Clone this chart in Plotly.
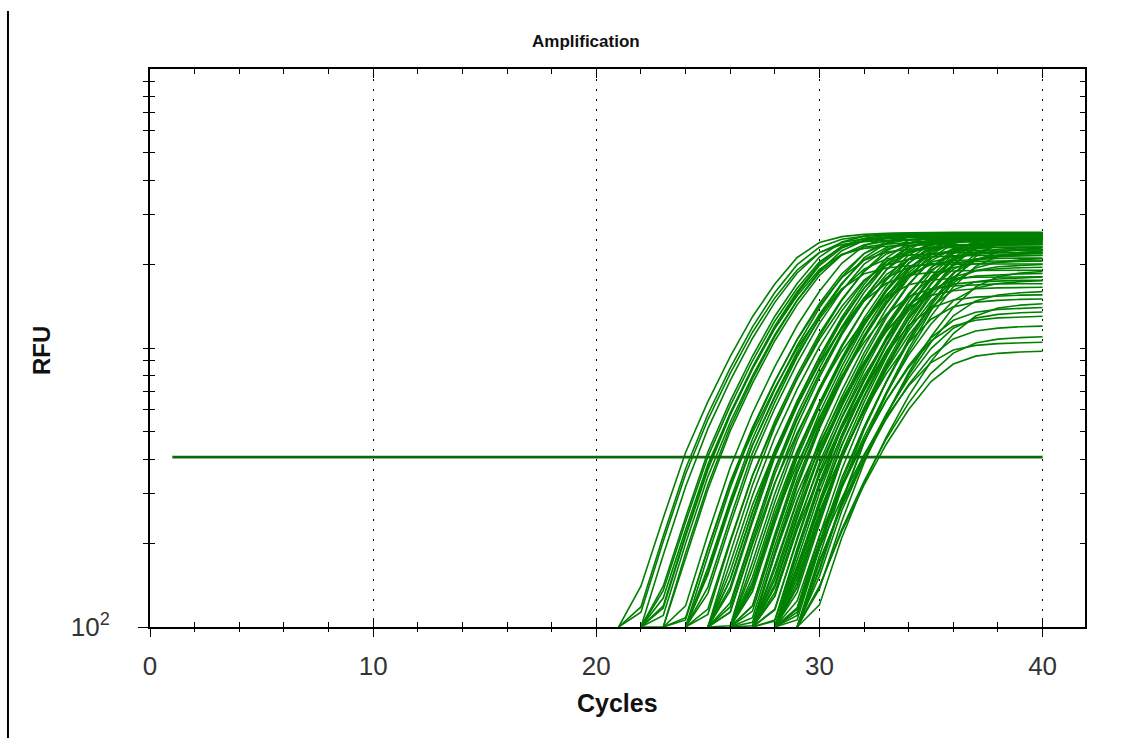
import plotly.graph_objects as go

# ---------------------------------------------------------------------------
# Run data: cycle numbers, threshold and baseline-subtracted RFU per well.
# Each well list holds the readings that end at cycle 40; the first entry is
# the last reading that still sits below the axis floor.
# ---------------------------------------------------------------------------
CYCLES = list(range(1, 41))
THRESHOLD = 406
Y_FLOOR = 100

A01 = [73, 140, 246, 422, 642, 932, 1295, 1696, 2111, 2388, 2507, 2554, 2577, 2587, 2590, 2590, 2590, 2590, 2590, 2590]
A02 = [61, 118, 212, 369, 579, 847, 1190, 1580, 1989, 2299, 2455, 2514, 2542, 2555, 2560, 2560, 2560, 2560, 2560, 2560]
A03 = [59, 113, 203, 353, 554, 811, 1139, 1512, 1904, 2200, 2350, 2406, 2433, 2445, 2450, 2450, 2450, 2450, 2450, 2450]
A04 = [98, 181, 318, 514, 764, 1084, 1457, 1857, 2197, 2389, 2465, 2495, 2512, 2520, 2520, 2520, 2520, 2520, 2520]
A05 = [73, 140, 247, 424, 645, 936, 1300, 1703, 2119, 2397, 2517, 2564, 2587, 2597, 2600, 2600, 2600, 2600, 2600]
A06 = [70, 135, 238, 408, 620, 900, 1250, 1638, 2038, 2305, 2420, 2465, 2488, 2498, 2500, 2500, 2500, 2500, 2500]
A07 = [62, 119, 214, 372, 583, 854, 1200, 1592, 2005, 2317, 2474, 2534, 2562, 2575, 2580, 2580, 2580, 2580, 2580]
A08 = [58, 110, 199, 346, 542, 794, 1116, 1481, 1865, 2155, 2302, 2357, 2383, 2395, 2400, 2400, 2400, 2400, 2400]
A09 = [61, 117, 211, 366, 574, 841, 1181, 1567, 1974, 2281, 2436, 2494, 2522, 2535, 2540, 2540, 2540, 2540, 2540]
A10 = [96, 178, 311, 504, 748, 1062, 1428, 1820, 2154, 2342, 2416, 2445, 2463, 2470, 2470, 2470, 2470, 2470]
A11 = [51, 99, 184, 323, 522, 776, 1101, 1480, 1887, 2232, 2427, 2504, 2534, 2552, 2560, 2560, 2560, 2560, 2560]
A12 = [66, 127, 223, 383, 583, 846, 1175, 1539, 1915, 2167, 2275, 2317, 2338, 2348, 2350, 2350, 2350, 2350, 2350]

B01 = [62, 119, 215, 373, 585, 857, 1204, 1598, 2012, 2326, 2484, 2543, 2572, 2585, 2590, 2590, 2590, 2590]
B02 = [55, 106, 191, 331, 520, 761, 1070, 1419, 1787, 2065, 2206, 2259, 2284, 2295, 2300, 2300, 2300, 2300]
B03 = [98, 180, 315, 510, 758, 1075, 1445, 1843, 2180, 2370, 2445, 2475, 2493, 2500, 2500, 2500, 2500]
B04 = [86, 158, 277, 449, 667, 946, 1272, 1621, 1918, 2086, 2152, 2178, 2193, 2200, 2200, 2200, 2200]
B05 = [81, 154, 270, 448, 674, 968, 1323, 1708, 2070, 2293, 2384, 2421, 2440, 2448, 2450, 2450, 2450]
B06 = [56, 108, 190, 326, 496, 720, 1000, 1310, 1630, 1844, 1936, 1972, 1990, 1998, 2000, 2000, 2000, 2000]
B07 = [72, 139, 245, 421, 640, 929, 1290, 1690, 2103, 2379, 2497, 2544, 2567, 2577, 2580, 2580, 2580]
B08 = [60, 116, 204, 350, 533, 774, 1075, 1408, 1752, 1982, 2081, 2120, 2139, 2148, 2150, 2150, 2150]
B09 = [58, 111, 201, 348, 547, 801, 1125, 1493, 1880, 2173, 2321, 2376, 2403, 2415, 2420, 2420, 2420]
B10 = [87, 158, 274, 429, 629, 884, 1172, 1476, 1706, 1822, 1866, 1887, 1896, 1900, 1900, 1900]
B11 = [99, 184, 323, 522, 776, 1101, 1480, 1887, 2232, 2427, 2504, 2534, 2552, 2560, 2560, 2560]
B12 = [80, 148, 258, 418, 621, 882, 1185, 1511, 1788, 1943, 2005, 2030, 2044, 2050, 2050, 2050]

C01 = [78, 148, 259, 430, 646, 928, 1269, 1638, 1986, 2200, 2287, 2322, 2341, 2348, 2350, 2350]
C02 = [59, 113, 198, 329, 495, 711, 972, 1255, 1521, 1685, 1751, 1778, 1793, 1798, 1800, 1800]
C03 = [70, 135, 238, 408, 620, 900, 1250, 1638, 2038, 2305, 2420, 2465, 2488, 2498, 2500, 2500]
C04 = [63, 122, 214, 367, 558, 810, 1125, 1474, 1834, 2075, 2178, 2219, 2239, 2248, 2250, 2250]
C05 = [59, 113, 203, 353, 554, 811, 1139, 1512, 1904, 2200, 2350, 2406, 2433, 2445, 2450, 2450]
C06 = [78, 141, 245, 384, 563, 791, 1049, 1321, 1527, 1630, 1669, 1688, 1697, 1700, 1700]
C07 = [52, 101, 186, 326, 528, 785, 1114, 1497, 1909, 2258, 2455, 2533, 2564, 2582, 2590, 2590]
C08 = [82, 151, 265, 428, 636, 903, 1214, 1548, 1831, 1991, 2054, 2079, 2094, 2100, 2100]
C09 = [84, 161, 281, 467, 701, 1007, 1377, 1777, 2155, 2387, 2481, 2519, 2540, 2547, 2550]
C10 = [54, 104, 182, 302, 454, 652, 891, 1150, 1394, 1544, 1605, 1630, 1643, 1648, 1650]
C11 = [69, 134, 236, 404, 615, 893, 1240, 1624, 2021, 2287, 2401, 2445, 2468, 2478, 2480]
C12 = [62, 119, 209, 359, 546, 792, 1100, 1441, 1793, 2028, 2130, 2169, 2189, 2198, 2200]

D01 = [95, 166, 285, 434, 630, 875, 1146, 1426, 1614, 1694, 1726, 1741, 1748, 1750]
D02 = [62, 119, 215, 373, 585, 857, 1204, 1598, 2012, 2326, 2484, 2543, 2572, 2585, 2590]
D03 = [56, 108, 195, 338, 531, 778, 1093, 1450, 1826, 2110, 2254, 2308, 2334, 2345, 2350]
D04 = [71, 129, 223, 350, 513, 721, 956, 1204, 1392, 1486, 1522, 1539, 1547, 1550]
D05 = [98, 181, 318, 514, 764, 1084, 1457, 1857, 2197, 2389, 2465, 2495, 2512, 2520]
D06 = [80, 148, 258, 418, 621, 882, 1185, 1511, 1788, 1943, 2005, 2030, 2044, 2050]
D07 = [72, 133, 233, 377, 561, 796, 1069, 1363, 1613, 1754, 1809, 1832, 1844, 1850]
D08 = [80, 153, 267, 445, 668, 960, 1312, 1694, 2053, 2274, 2364, 2401, 2420, 2428]
D09 = [74, 142, 248, 412, 619, 889, 1215, 1568, 1901, 2106, 2189, 2223, 2241, 2248]
D10 = [95, 165, 275, 413, 593, 810, 1046, 1268, 1404, 1460, 1482, 1494, 1499]
D11 = [72, 139, 244, 419, 637, 925, 1285, 1683, 2095, 2370, 2488, 2534, 2557, 2567]
D12 = [60, 116, 204, 350, 533, 774, 1075, 1408, 1752, 1982, 2081, 2120, 2139, 2148]

E01 = [55, 105, 185, 318, 484, 702, 975, 1277, 1589, 1798, 1888, 1923, 1940, 1948]
E02 = [60, 115, 208, 360, 565, 828, 1163, 1543, 1943, 2245, 2398, 2455, 2483, 2495]
E03 = [55, 106, 191, 331, 520, 761, 1070, 1419, 1787, 2065, 2206, 2259, 2284, 2295]
E04 = [64, 116, 202, 316, 463, 651, 864, 1088, 1257, 1343, 1375, 1390, 1397]
E05 = [99, 183, 320, 518, 770, 1092, 1468, 1872, 2215, 2408, 2484, 2515, 2532]
E06 = [94, 173, 302, 490, 727, 1032, 1387, 1769, 2093, 2275, 2347, 2376, 2393]
E07 = [78, 144, 252, 408, 606, 860, 1156, 1474, 1744, 1896, 1956, 1980, 1994]
E08 = [85, 163, 284, 472, 710, 1019, 1393, 1798, 2180, 2415, 2510, 2549, 2570]
E09 = [73, 139, 242, 403, 605, 869, 1188, 1533, 1859, 2059, 2141, 2174, 2191]
E10 = [58, 110, 193, 320, 481, 691, 945, 1220, 1479, 1638, 1703, 1729, 1743]
E11 = [69, 133, 234, 401, 610, 886, 1230, 1611, 2005, 2268, 2381, 2426, 2448]
E12 = [59, 113, 200, 342, 521, 756, 1050, 1376, 1712, 1936, 2033, 2071, 2090]

F01 = [61, 117, 212, 367, 576, 844, 1186, 1573, 1981, 2290, 2445, 2504, 2532]
F02 = [55, 106, 191, 331, 520, 761, 1070, 1419, 1787, 2065, 2206, 2259, 2284]
F03 = [98, 180, 315, 510, 758, 1075, 1445, 1843, 2180, 2370, 2445, 2475]
F04 = [74, 137, 239, 388, 576, 817, 1098, 1400, 1657, 1801, 1858, 1881]
F05 = [70, 124, 212, 322, 468, 650, 852, 1060, 1199, 1258, 1282, 1294, 1299]
F06 = [99, 173, 271, 397, 558, 740, 932, 1078, 1151, 1178, 1192, 1198]
F07 = [79, 139, 224, 333, 473, 636, 811, 959, 1043, 1076, 1089, 1097]
F08 = [81, 140, 220, 323, 453, 602, 758, 876, 935, 957, 968, 973]
F09 = [66, 116, 192, 289, 415, 567, 732, 887, 983, 1022, 1037, 1046, 1049]
F10 = [97, 170, 275, 409, 581, 780, 995, 1177, 1280, 1320, 1337, 1346]
F11 = [86, 152, 261, 397, 576, 800, 1048, 1304, 1475, 1549, 1578, 1592]
F12 = [67, 120, 209, 328, 480, 674, 895, 1127, 1302, 1391, 1424, 1440]

G01 = [92, 169, 296, 479, 712, 1011, 1358, 1732, 2049, 2228, 2298, 2327, 2343, 2350, 2350, 2350]
G02 = [72, 139, 245, 421, 640, 929, 1290, 1690, 2103, 2379, 2497, 2544, 2567, 2577, 2580, 2580]
G03 = [76, 145, 253, 421, 633, 909, 1242, 1603, 1944, 2153, 2238, 2272, 2291, 2298, 2300]
G04 = [60, 114, 206, 357, 560, 821, 1153, 1530, 1927, 2227, 2378, 2435, 2463, 2475, 2480]
G05 = [52, 101, 186, 325, 526, 782, 1109, 1491, 1901, 2250, 2446, 2523, 2554, 2572, 2580]
G06 = [67, 129, 226, 388, 590, 857, 1190, 1559, 1940, 2194, 2304, 2347, 2368, 2378]
G07 = [83, 149, 259, 407, 596, 837, 1111, 1399, 1616, 1726, 1768, 1787, 1796]
G08 = [81, 154, 270, 448, 674, 968, 1323, 1708, 2070, 2293, 2384, 2421, 2440]
G09 = [72, 139, 245, 421, 640, 929, 1290, 1690, 2103, 2379, 2497, 2544, 2567]
G10 = [88, 162, 284, 459, 682, 968, 1301, 1658, 1962, 2133, 2201, 2228]
G11 = [93, 171, 300, 486, 721, 1023, 1376, 1754, 2075, 2256, 2328, 2356, 2373, 2380, 2380]
G12 = [69, 132, 233, 399, 608, 882, 1225, 1605, 1997, 2259, 2372, 2416, 2438, 2448, 2450, 2450, 2450]

H01 = [85, 163, 284, 472, 710, 1019, 1393, 1798, 2180, 2415, 2510, 2549, 2570, 2577, 2580, 2580, 2580]
H02 = [72, 138, 243, 417, 635, 922, 1280, 1677, 2086, 2360, 2478, 2524, 2547, 2557, 2560]
H03 = [84, 161, 282, 468, 704, 1011, 1382, 1784, 2163, 2396, 2491, 2529, 2550, 2557]
H04 = [86, 158, 277, 449, 667, 946, 1272, 1621, 1918, 2086, 2152, 2178, 2193]
H05 = [61, 118, 212, 369, 579, 847, 1190, 1580, 1989, 2299, 2455, 2514, 2542, 2555, 2560, 2560]
H06 = [83, 159, 277, 461, 693, 995, 1361, 1756, 2129, 2359, 2452, 2490]

# Axis tick positions
X_MAJOR = [0, 10, 20, 30, 40]
X_MINOR = [2, 4, 6, 8, 12, 14, 16, 18, 22, 24, 26, 28, 32, 34, 36, 38]
Y_MAJOR = [100]
Y_MAJOR_TEXT = ["10<sup>2</sup>"]
Y_MINOR = [200, 300, 400, 500, 600, 700, 800, 900,
           1000, 2000, 3000, 4000, 5000, 6000, 7000, 8000, 9000]
X_MAX = 41.9

WELLS = {
    "A01": A01, "A02": A02, "A03": A03, "A04": A04, "A05": A05, "A06": A06,
    "A07": A07, "A08": A08, "A09": A09, "A10": A10, "A11": A11, "A12": A12,
    "B01": B01, "B02": B02, "B03": B03, "B04": B04, "B05": B05, "B06": B06,
    "B07": B07, "B08": B08, "B09": B09, "B10": B10, "B11": B11, "B12": B12,
    "C01": C01, "C02": C02, "C03": C03, "C04": C04, "C05": C05, "C06": C06,
    "C07": C07, "C08": C08, "C09": C09, "C10": C10, "C11": C11, "C12": C12,
    "D01": D01, "D02": D02, "D03": D03, "D04": D04, "D05": D05, "D06": D06,
    "D07": D07, "D08": D08, "D09": D09, "D10": D10, "D11": D11, "D12": D12,
    "E01": E01, "E02": E02, "E03": E03, "E04": E04, "E05": E05, "E06": E06,
    "E07": E07, "E08": E08, "E09": E09, "E10": E10, "E11": E11, "E12": E12,
    "F01": F01, "F02": F02, "F03": F03, "F04": F04, "F05": F05, "F06": F06,
    "F07": F07, "F08": F08, "F09": F09, "F10": F10, "F11": F11, "F12": F12,
    "G01": G01, "G02": G02, "G03": G03, "G04": G04, "G05": G05, "G06": G06,
    "G07": G07, "G08": G08, "G09": G09, "G10": G10, "G11": G11, "G12": G12,
    "H01": H01, "H02": H02, "H03": H03, "H04": H04, "H05": H05, "H06": H06,
}

CURVE_GREEN = "#008000"
THRESHOLD_GREEN = "#0b6b0b"
FONT = "Arial, 'Liberation Sans', sans-serif"

fig = go.Figure()

# Amplification curves; readings under the floor are pinned to the floor
for well, rfu in WELLS.items():
    cycles = CYCLES[-len(rfu):]
    fig.add_trace(go.Scatter(
        x=cycles, y=[max(v, Y_FLOOR) for v in rfu], mode="lines", name=well,
        line=dict(color=CURVE_GREEN, width=1.6), hoverinfo="skip", showlegend=False,
    ))

# Threshold line across the full run; it lives on the twin axes (same ranges),
# which also carry the outward half of the crossing tick marks.
fig.add_trace(go.Scatter(
    x=[CYCLES[0], CYCLES[-1]], y=[THRESHOLD, THRESHOLD], mode="lines",
    xaxis="x2", yaxis="y2",
    line=dict(color=THRESHOLD_GREEN, width=2.8), hoverinfo="skip", showlegend=False,
))

tick_common = dict(tickcolor="black", tickwidth=1.4)

fig.update_layout(
    width=1122, height=740,
    margin=dict(l=150, r=37, t=69, b=113),
    paper_bgcolor="white", plot_bgcolor="white",
    font=dict(family=FONT, color="#333333"),
    showlegend=False,
    xaxis=dict(
        range=[0, X_MAX], showline=True, linecolor="black", linewidth=2, mirror="ticks",
        ticks="inside", ticklen=9, tickvals=X_MAJOR, ticktext=[str(v) for v in X_MAJOR],
        tickfont=dict(size=26, color="#333333"), ticklabelstandoff=15,
        showgrid=True, gridcolor="black", gridwidth=1.2, griddash="1.5px,8.5px",
        zeroline=False,
        minor=dict(tickvals=X_MINOR, ticks="inside", ticklen=5, showgrid=False, **tick_common),
        **tick_common,
    ),
    xaxis2=dict(
        overlaying="x", anchor="y2", side="bottom", range=[0, X_MAX],
        showline=False, showgrid=False, zeroline=False, showticklabels=False,
        ticks="outside", ticklen=9, tickvals=X_MAJOR,
        minor=dict(tickvals=X_MINOR, ticks="outside", ticklen=4, showgrid=False, **tick_common),
        **tick_common,
    ),
    yaxis=dict(
        type="log", range=[2, 4], showline=True, linecolor="black", linewidth=2, mirror="ticks",
        ticks="inside", ticklen=5, tickvals=Y_MAJOR, ticktext=Y_MAJOR_TEXT,
        tickfont=dict(size=26, color="#333333"), ticklabelstandoff=33,
        showgrid=False, zeroline=False,
        minor=dict(tickvals=Y_MINOR, ticks="inside", ticklen=5, showgrid=False, **tick_common),
        **tick_common,
    ),
    yaxis2=dict(
        overlaying="y", anchor="x2", side="left", type="log", range=[2, 4],
        showline=False, showgrid=False, zeroline=False, showticklabels=False,
        ticks="outside", ticklen=11, tickvals=Y_MAJOR,
        minor=dict(tickvals=Y_MINOR, ticks="outside", ticklen=6, showgrid=False, **tick_common),
        **tick_common,
    ),
    annotations=[
        dict(text="<b>Amplification</b>", x=0.466, y=1.0484, xref="paper", yref="paper",
             xanchor="center", yanchor="middle", showarrow=False,
             font=dict(family=FONT, size=17, color="#111111")),
        dict(text="<b>Cycles</b>", x=0.4995, y=-0.136, xref="paper", yref="paper",
             xanchor="center", yanchor="middle", showarrow=False,
             font=dict(family=FONT, size=25, color="#111111")),
        dict(text="<b>RFU</b>", x=-0.1166, y=0.4964, xref="paper", yref="paper",
             xanchor="center", yanchor="middle", showarrow=False, textangle=-90,
             font=dict(family=FONT, size=24, color="#111111")),
    ],
    shapes=[
        dict(type="line", xref="paper", yref="paper", x0=-0.1519, x1=-0.1519,
             y0=-0.199, y1=1.104, line=dict(color="black", width=2)),
    ],
)

fig.write_html("out.html")
